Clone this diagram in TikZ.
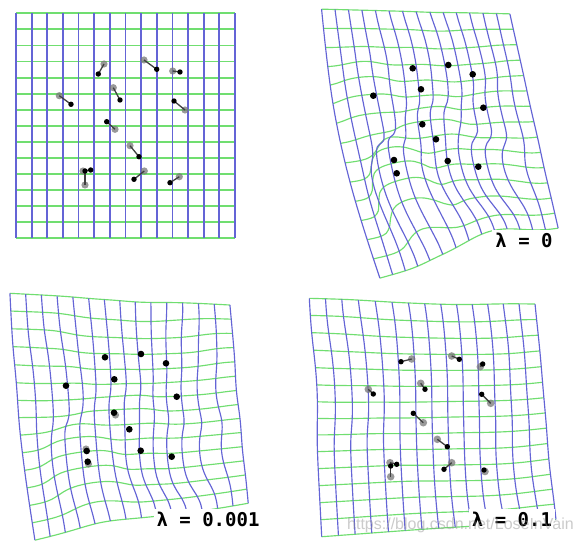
\documentclass[tikz,border=0pt]{standalone}
\usepackage{fontspec}
\newfontfamily\lblfont{DejaVu Sans Mono}
\newfontfamily\wmfont{Liberation Sans}
\definecolor{gridgreen}{RGB}{112,222,112}
\definecolor{gridblue}{RGB}{100,100,214}
\definecolor{dotgray}{RGB}{120,120,120}

\newcommand\lmk[4]{%
  \pgfmathsetmacro\wkk{exp(max(-9,0-((\wuu-(#1))*(\wuu-(#1))+(\wvv-(#2))*(\wvv-(#2)))/\PSs))}%
  \pgfmathsetmacro\wsk{\wsk+\wkk}%
  \pgfmathsetmacro\wsx{\wsx+\wkk*(#3)}%
  \pgfmathsetmacro\wsy{\wsy+\wkk*(#4)}%
}
\newcommand\warppt[2]{%
  \edef\wuu{#1}\edef\wvv{#2}%
  \def\wsk{0}\def\wsx{0}\def\wsy{0}%
  \Plmarks
  \pgfmathsetmacro\wa{\wuu/14}%
  \pgfmathsetmacro\wb{\wvv/14}%
  \pgfmathsetmacro\wx{\PTLx+(\PTRx-\PTLx)*\wa+\wb*((\PBLx-\PTLx)+\wa*((\PBRx-\PBLx)-(\PTRx-\PTLx)))+\wsx/(\wsk+\PKz)-\PLB*sin(180*\wb)*(1-\wa)*(1-\wa)*(1-\wa)*(1-\wa)}%
  \pgfmathsetmacro\wy{\PTLy+(\PTRy-\PTLy)*\wa+\wb*((\PBLy-\PTLy)+\wa*((\PBRy-\PBLy)-(\PTRy-\PTLy)))+\wsy/(\wsk+\PKz)-\PBA*exp(max(-9,0-(\wa-\PBt)*(\wa-\PBt)/(\PBw*\PBw)))*\wb*\wb*\wb*\wb}%
}
\newcommand\warpgrid[2]{%
  \foreach \j in {0,...,14}{%
    \gdef\wpts{}%
    \foreach \k in {0,...,28}{%
      \pgfmathsetmacro\uq{\k/2}%
      \warppt{\uq}{\j}%
      \xdef\wpts{\wpts(\wx,\wy)}%
    }%
    \edef\wtmp{\noexpand\draw[#1] plot[smooth] coordinates {\wpts};}\wtmp
  }%
  \foreach \i in {0,...,14}{%
    \gdef\wpts{}%
    \foreach \k in {0,...,28}{%
      \pgfmathsetmacro\vq{\k/2}%
      \warppt{\i}{\vq}%
      \xdef\wpts{\wpts(\wx,\wy)}%
    }%
    \edef\wtmp{\noexpand\draw[#2] plot[smooth] coordinates {\wpts};}\wtmp
  }%
}

\tikzset{
  hgridA/.style={draw=gridgreen, line width=1.8pt},
  vgridA/.style={draw=gridblue, line width=1.8pt},
  hgrid/.style={draw=gridgreen, line width=1.15pt},
  vgrid/.style={draw=gridblue, line width=1.15pt},
  bdot/.style={fill=black},
  gdot/.style={fill=dotgray, opacity=0.75},
  conn/.style={draw=black!75, line width=1.3pt},
  lbl/.style={fill=white, inner sep=3pt, anchor=base, font=\lblfont\bfseries\fontsize{19}{22}\selectfont},
  wm/.style={anchor=base west, inner sep=0pt, text=black!45, opacity=0.45, font=\wmfont\fontsize{16}{18}\selectfont}
}

\begin{document}
\begin{tikzpicture}[x=1pt, y=-1pt]
\fill[white] (0,0) rectangle (580,545);
\useasboundingbox (0,0) rectangle (580,545);

% ---------- panel 1 : regular grid ----------
\foreach \j in {0,...,14}{\draw[hgridA] (16,13.33+\j*16.07) -- (235,13.33+\j*16.07);}
\foreach \i in {0,...,14}{\draw[vgridA] (16+\i*15.643,13.33) -- (16+\i*15.643,238.33);}

\foreach \n/\gx/\gy/\bx/\by in {1/104/64/98.3/74, 2/144/60/156.7/69.3, 3/172.7/71/180/72,
  4/59.3/95.7/71/104.3, 5/113.3/87.7/120/100, 6/185/110/174/101, 7/115/129.3/106.7/121.7,
  8/130/145.7/139/156.7, 9/144.3/171/134/179.3, 10/179.3/176.7/170/182.7,
  11/83/171/90.7/170, 12/85/185/85/171}{
  \coordinate (ag\n) at (\gx,\gy);
  \coordinate (ab\n) at (\bx,\by);
  \fill[gdot] (ag\n) circle (3.6pt);
  \draw[conn] (ag\n) -- (ab\n);
  \fill[bdot] (ab\n) circle (2.7pt);
}

% ---------- panel 2 : lambda = 0 ----------
\def\PTLx{321.7}\def\PTLy{9.3}\def\PTRx{510}\def\PTRy{14}
\def\PBRx{558.3}\def\PBRy{230}\def\PBLx{380}\def\PBLy{278.3}
\def\PBA{17}\def\PBt{0.62}\def\PBw{0.25}\def\PLB{10}
\def\PSs{2.0}\def\PKz{0.1}
\def\Plmarks{%
  \lmk{5.625}{3.153}{3.8}{1.1}\lmk{8.183}{2.904}{5.7}{3.5}\lmk{10.017}{3.589}{3.1}{2.2}%
  \lmk{2.768}{5.126}{-2.5}{-9.1}\lmk{6.22}{4.628}{-1.3}{-3.4}\lmk{10.804}{6.016}{-5.4}{-3.3}%
  \lmk{6.329}{7.217}{-11.4}{-13.5}\lmk{7.288}{8.237}{-14.6}{-12.9}\lmk{8.202}{9.811}{-21.1}{-14.6}%
  \lmk{10.439}{10.166}{-20.9}{-9.5}\lmk{4.283}{9.811}{-22.2}{-28.2}\lmk{4.411}{10.683}{-24.9}{-30.3}}
\warpgrid{hgrid}{vgrid}

\foreach \n/\x/\y in {1/412.7/68.3, 2/448.3/65, 3/472.7/74.3, 4/373.3/95.7, 5/421/89.3,
  6/483.3/107.7, 7/422.3/124.3, 8/436/139.3, 9/447.7/161, 10/478.3/166.7, 11/394/160, 12/396.7/173.3}{
  \coordinate (bb\n) at (\x,\y);
  \fill[bdot] (bb\n) circle (3.3pt);
}
\node[lbl] (lab0) at (524,247.3) {λ = 0};

% ---------- panel 3 : lambda = 0.001 ----------
\def\PTLx{10}\def\PTLy{293.3}\def\PTRx{230}\def\PTRy{305}
\def\PBRx{248.3}\def\PBRy{503.3}\def\PBLx{35}\def\PBLy{541.7}
\def\PBA{6}\def\PBt{0.35}\def\PBw{0.3}\def\PLB{4}
\def\PSs{2.5}\def\PKz{0.12}
\def\Plmarks{%
  \lmk{5.625}{3.153}{1.5}{7.7}\lmk{8.183}{2.904}{-1.9}{8.3}\lmk{10.017}{3.589}{-6.7}{7.0}%
  \lmk{2.768}{5.126}{3.7}{2.8}\lmk{6.22}{4.628}{-0.7}{5.9}\lmk{10.804}{6.016}{-11.4}{4.2}%
  \lmk{6.329}{7.217}{-6.7}{-2.4}\lmk{7.288}{8.237}{-8.0}{-1.0}\lmk{8.202}{9.811}{-13.0}{-3.2}%
  \lmk{10.439}{10.166}{-16.9}{1.3}\lmk{4.283}{9.811}{-6.7}{-9.5}\lmk{4.411}{10.683}{-9.1}{-13.0}}
\warpgrid{hgrid}{vgrid}

\foreach \n/\x/\y in {7/115.5/415, 11/86/449, 12/88.5/464}{
  \coordinate (cg\n) at (\x,\y);
  \fill[gdot] (cg\n) circle (3.6pt);
}
\foreach \n/\x/\y in {1/105/357.3, 2/141/354, 3/166/363.3, 4/66/385.7, 5/114.3/379.3,
  6/176.7/396.7, 7/114/412.7, 8/129.3/429.3, 9/140.7/450.7, 10/171.7/456.7, 11/86.7/451, 12/87.7/461.7}{
  \coordinate (cb\n) at (\x,\y);
  \fill[bdot] (cb\n) circle (3.3pt);
}
\node[lbl] (lab1) at (208,526) {λ = 0.001};

% ---------- panel 4 : lambda = 0.1 ----------
\def\PTLx{309.3}\def\PTLy{298.3}\def\PTRx{535}\def\PTRy{304}
\def\PBRx{556}\def\PBRy{519.3}\def\PBLx{321.7}\def\PBLy{536.7}
\def\PBA{0}\def\PBt{0.5}\def\PBw{0.3}\def\PLB{0}
\def\PSs{4.5}\def\PKz{0.2}
\def\Plmarks{%
  \lmk{5.625}{3.153}{5.6}{4.6}\lmk{8.183}{2.904}{4.9}{5.3}\lmk{10.017}{3.589}{3.2}{5.1}%
  \lmk{2.768}{5.126}{6.4}{3.0}\lmk{6.22}{4.628}{4.1}{4.9}\lmk{10.804}{6.016}{-0.6}{4.0}%
  \lmk{6.329}{7.217}{2.5}{2.9}\lmk{7.288}{8.237}{0.3}{3.3}\lmk{8.202}{9.811}{-1.5}{2.2}%
  \lmk{10.439}{10.166}{-5.2}{5.3}\lmk{4.283}{9.811}{0.7}{0.2}\lmk{4.411}{10.683}{-0.8}{0}}
\warpgrid{hgrid}{vgrid}

\foreach \n/\gx/\gy/\bx/\by in {1/411.7/359/401/361.7, 2/451.7/356/459.3/359.3, 3/480.3/366.7/482.7/364,
  4/368.3/389.3/373.3/394, 5/420.7/383.3/425/389.3, 6/490.7/403.3/481.7/394.3, 7/423.3/422.7/413.3/413.3,
  8/437.3/439.3/447.3/446.7, 9/451.7/462.7/444/469.3, 10/485/471.5/484/470,
  11/390/462.7/396.7/464.3, 12/390.7/476.7/390.7/466}{
  \coordinate (dg\n) at (\gx,\gy);
  \coordinate (db\n) at (\bx,\by);
  \fill[gdot] (dg\n) circle (3.8pt);
  \draw[conn] (dg\n) -- (db\n);
  \fill[bdot] (db\n) circle (2.7pt);
}
\node[lbl] (lab2) at (512,526) {λ = 0.1};

\node[wm] (wmark) at (347,529) {https://blog.csdn.net/LoseInVain};
\end{tikzpicture}
\end{document}
